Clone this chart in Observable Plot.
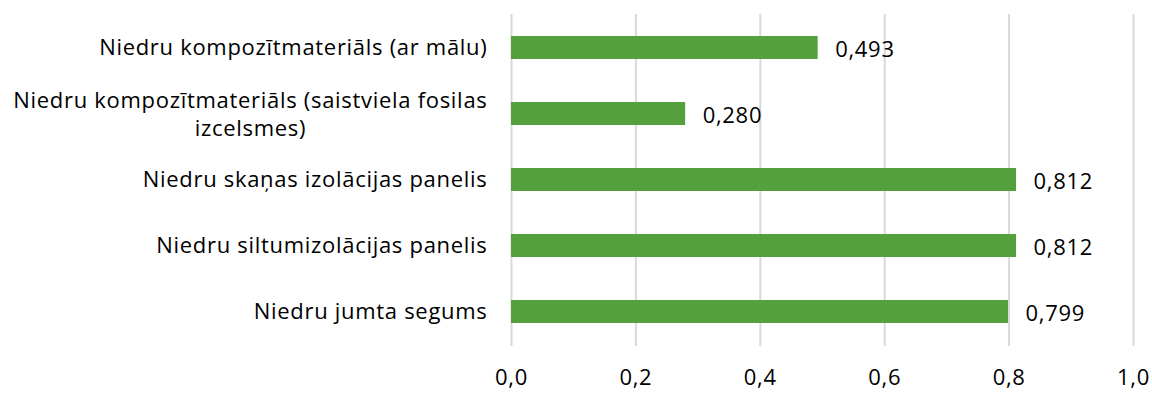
<!DOCTYPE html>
<html><head><meta charset="utf-8">
<script src="https://cdn.jsdelivr.net/npm/d3@7"></script>
<script src="https://cdn.jsdelivr.net/npm/@observablehq/plot@0.6"></script>
<style>
body{margin:0;background:#fff;}
svg{font-family:"Open Sans",sans-serif;}
svg text{letter-spacing:0.7px;}
</style></head><body>
<div id="chart"></div>
<script>
const categories = [
  "Niedru kompozītmateriāls (ar mālu)",
  "Niedru kompozītmateriāls (saistviela fosilas\nizcelsmes)",
  "Niedru skaņas izolācijas panelis",
  "Niedru siltumizolācijas panelis",
  "Niedru jumta segums"
];
const values = [0.493, 0.280, 0.812, 0.812, 0.799];
const xTicks = [0, 0.2, 0.4, 0.6, 0.8, 1.0];

const FONT = "Open Sans";
const FS = 22;
const LS = 0.7;
const LH = 28;
const PAD = 24;

const data = categories.map((c, i) => ({category: c, value: values[i]}));
const comma = (f) => (v) => d3.format(f)(v).replace(".", ",");

// measure text widths to emulate centered wrapped label
const ctx = document.createElement("canvas").getContext("2d");
ctx.font = `${FS}px "${FONT}"`;
const measure = (s) => ctx.measureText(s).width + LS * s.length;
const single = [], firstLines = [], restLines = [];
categories.forEach(c => {
  const lines = c.split("\n");
  if (lines.length === 1) single.push({category: c, text: lines[0]});
  else {
    const w = Math.max(...lines.map(measure));
    firstLines.push({category: c, text: lines[0], w});
    lines.slice(1).forEach(l => restLines.push({category: c, text: l, w}));
  }
});
const blockW = firstLines.length ? firstLines[0].w : 0;

const chart = Plot.plot({
  width: 1152,
  height: 393,
  marginLeft: 511,
  marginRight: 19,
  marginTop: 14,
  marginBottom: 47,
  style: {fontSize: FS + "px", color: "#000", background: "#fff", fontFamily: FONT},
  x: {domain: [0, 1]},
  y: {domain: categories, paddingInner: 0.65, paddingOuter: 0.325, axis: null},
  marks: [
    Plot.gridX(xTicks, {stroke: "#d9d9d9", strokeOpacity: 1, strokeWidth: 2}),
    Plot.barX(data, {x: "value", y: "category", fill: "#54a03c"}),
    Plot.text(data, {x: "value", y: "category", text: d => comma(".3f")(d.value), textAnchor: "start", dx: 17, dy: 2, fontSize: FS, fill: "#000"}),
    Plot.axisX(xTicks, {tickSize: 0, tickPadding: 23, tickFormat: comma(".1f"), fontSize: FS, fill: "#000", label: null}),
    Plot.text(single, {y: "category", text: "text", frameAnchor: "left", textAnchor: "end", dx: -PAD, fontSize: FS, fill: "#000"}),
    Plot.text(firstLines, {y: "category", text: "text", frameAnchor: "left", textAnchor: "end", dx: -PAD, dy: -LH / 2 + 1, fontSize: FS, fill: "#000"}),
    Plot.text(restLines, {y: "category", text: "text", frameAnchor: "left", textAnchor: "middle", dx: -PAD - blockW / 2, dy: LH / 2 + 1, fontSize: FS, fill: "#000"})
  ]
});
document.getElementById("chart").appendChild(chart);
</script>
</body></html>
